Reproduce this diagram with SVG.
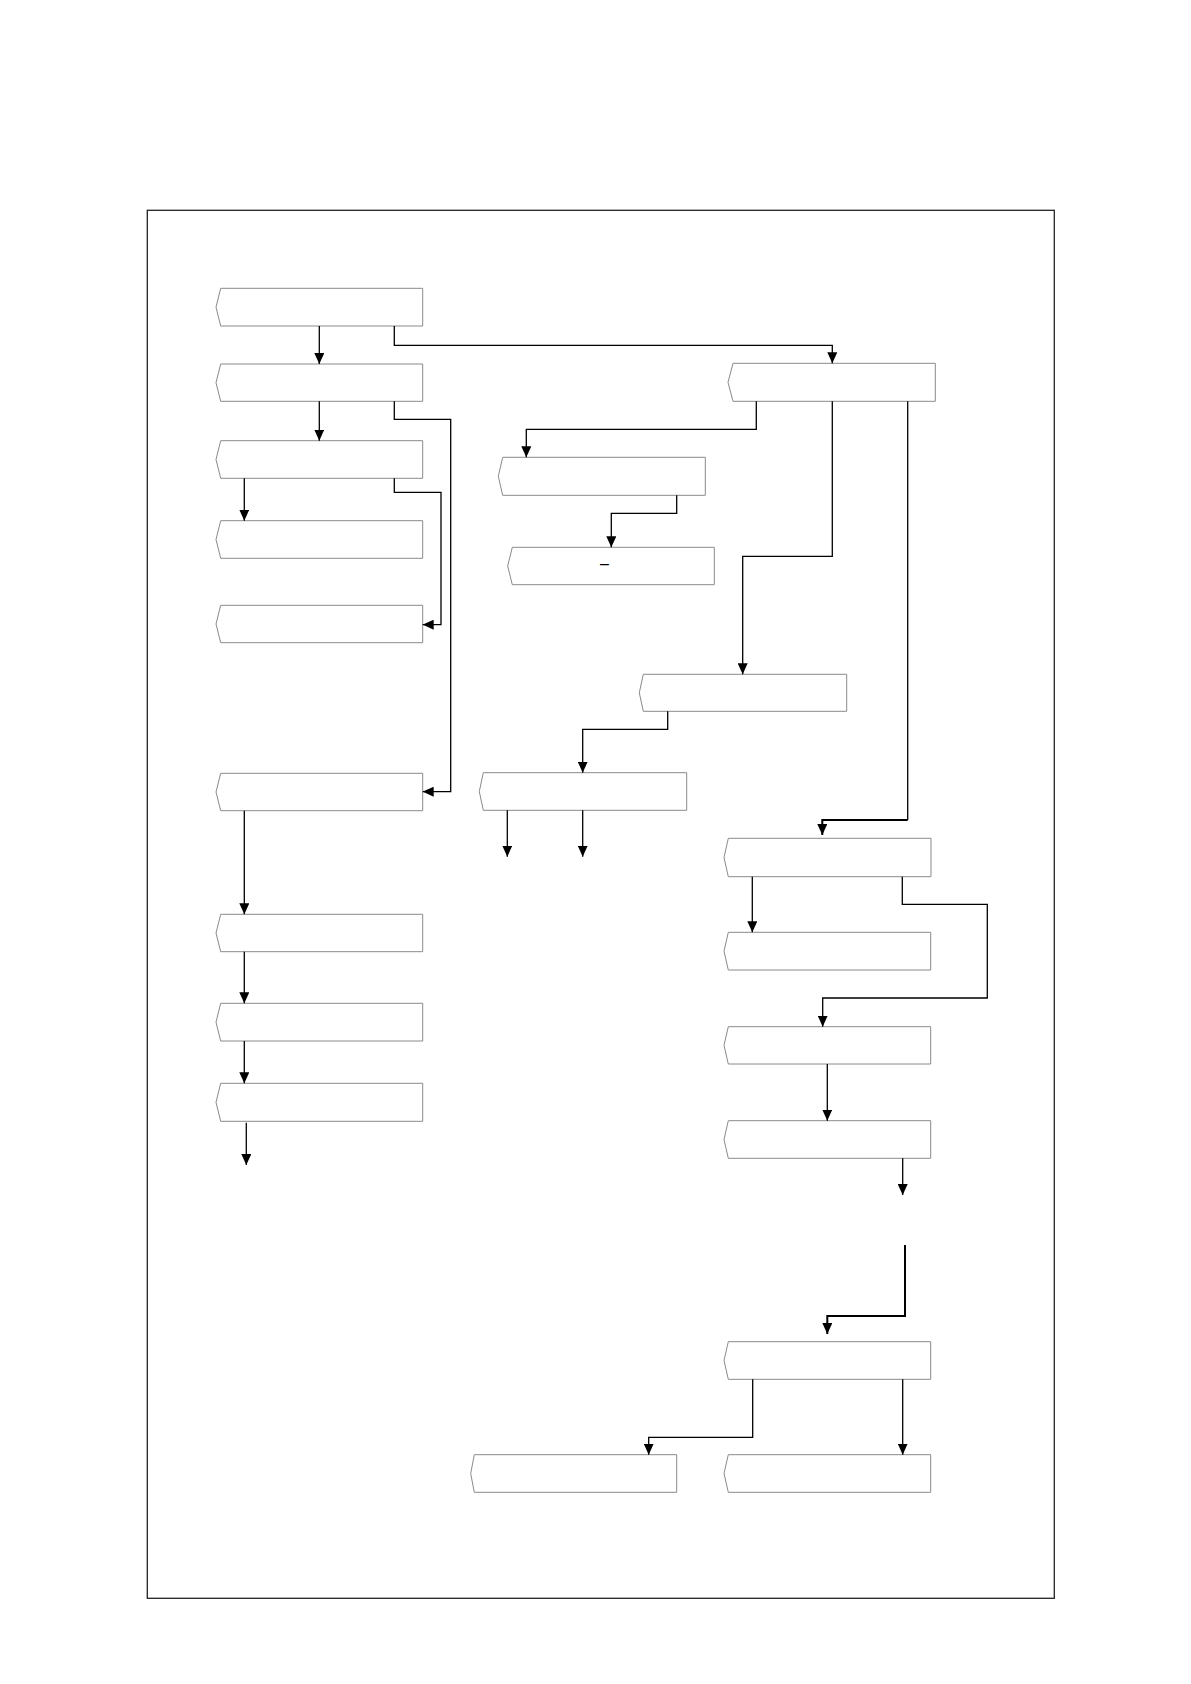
<svg xmlns="http://www.w3.org/2000/svg" width="1191" height="1684" viewBox="0 0 1191 1684">
<style>
.frame{fill:none;stroke:#222;stroke-width:1.3}
.box{fill:#fff;stroke:#8a8a8a;stroke-width:1}
.c{fill:none;stroke:#000;stroke-width:1.3;marker-end:url(#ah)}
.cn{fill:none;stroke:#000;stroke-width:1.3}
.thick{stroke-width:2}
.t{font-family:"Liberation Sans",Arial,sans-serif;font-size:16px;fill:#000;text-anchor:middle}
</style>
<defs>
<marker id="ah" markerUnits="userSpaceOnUse" markerWidth="11" markerHeight="10" refX="11" refY="5" orient="auto" viewBox="0 0 11 10">
<path d="M0,0 L11,5 L0,10 Z" fill="#000"/>
</marker>
</defs>
<rect width="1191" height="1684" fill="#fff"/>
<rect class="frame" x="147.3" y="210.3" width="907" height="1388"/>

<g id="L1"><path class="box" d="M220.7,288.3 H422.7 V326 H220.7 L216,307.2 Z"/></g>
<g id="L2"><path class="box" d="M220.7,364 H422.7 V401.3 H220.7 L216,382.7 Z"/></g>
<g id="L3"><path class="box" d="M220.7,440.7 H422.7 V478.3 H220.7 L216,459.5 Z"/></g>
<g id="L4"><path class="box" d="M220.7,520.7 H422.7 V558.3 H220.7 L216,539.5 Z"/></g>
<g id="L5"><path class="box" d="M220.7,605.3 H422.7 V642.7 H220.7 L216,624 Z"/></g>
<g id="L6"><path class="box" d="M220.7,773.3 H422.7 V810.7 H220.7 L216,792 Z"/></g>
<g id="L7"><path class="box" d="M220.7,914.3 H422.7 V951.7 H220.7 L216,933 Z"/></g>
<g id="L8"><path class="box" d="M220.7,1003.3 H422.7 V1041 H220.7 L216,1022.2 Z"/></g>
<g id="L9"><path class="box" d="M220.7,1083.3 H422.7 V1121.3 H220.7 L216,1102.3 Z"/></g>
<g id="R1"><path class="box" d="M733,363.3 H935.3 V401.3 H733 L728,382.3 Z"/></g>
<g id="M1"><path class="box" d="M502.7,457.3 H705.3 V495.3 H502.7 L498.3,476.3 Z"/></g>
<g id="M2"><path class="box" d="M512.3,547.3 H714.3 V584.7 H512.3 L507.7,566 Z"/><text class="t" x="604.5" y="569">–</text></g>
<g id="M3"><path class="box" d="M643.3,674.3 H846.7 V711.3 H643.3 L639.3,692.8 Z"/></g>
<g id="M4"><path class="box" d="M483.3,772.7 H686.7 V810.3 H483.3 L479.3,791.5 Z"/></g>
<g id="R2"><path class="box" d="M728.3,838.3 H931 V876.7 H728.3 L724,857.5 Z"/></g>
<g id="R3"><path class="box" d="M728.3,932.3 H930.7 V970 H728.3 L724,951.2 Z"/></g>
<g id="R4"><path class="box" d="M728.3,1026.7 H930.7 V1064 H728.3 L724,1045.3 Z"/></g>
<g id="R5"><path class="box" d="M728.3,1120.7 H930.7 V1158.3 H728.3 L724,1139.5 Z"/></g>
<g id="R6"><path class="box" d="M728.3,1341.7 H930.7 V1379.3 H728.3 L724,1360.5 Z"/></g>
<g id="B1"><path class="box" d="M474.3,1454.7 H676.7 V1492.3 H474.3 L470.7,1473.5 Z"/></g>
<g id="B2"><path class="box" d="M728.3,1454.7 H930.7 V1492.3 H728.3 L724,1473.5 Z"/></g>

<g id="connectors">
<path class="c" d="M319.3,326 V364"/>
<path class="c" d="M394.3,326 V345.3 H832.3 V363.3"/>
<path class="c" d="M319.3,401.3 V440.7"/>
<path class="c" d="M394.3,401.3 V419.3 H450.7 V791.7 H422.7"/>
<path class="c" d="M244.3,478.3 V520.7"/>
<path class="c" d="M394.3,478.3 V492.3 H441 V624.7 H422.7"/>
<path class="c" d="M244.3,810.7 V914.3"/>
<path class="c" d="M244.3,951.7 V1003.3"/>
<path class="c" d="M244.3,1041 V1083.3"/>
<path class="c" d="M246.3,1122.7 V1165"/>
<path class="c" d="M756.3,401.3 V429.3 H526.3 V457.3"/>
<path class="c" d="M832.3,401.3 V556.3 H742.7 V674.3"/>
<path class="cn" d="M907.7,401.3 V820"/>
<path class="c thick" d="M907.7,820 H822.3 V835"/>
<path class="c" d="M676.7,495.3 V513.3 H611.3 V547.3"/>
<path class="c" d="M667.7,711.3 V729.3 H582.7 V772.7"/>
<path class="c" d="M507.3,810.3 V856.7"/>
<path class="c" d="M582.7,810.3 V856.7"/>
<path class="c" d="M752.3,876.7 V932.3"/>
<path class="c" d="M902.3,876.7 V904.3 H987.3 V998 H822.7 V1026.7"/>
<path class="c" d="M827.3,1064 V1120.7"/>
<path class="c" d="M902.7,1158.3 V1195"/>
<path class="c thick" d="M905,1245 V1316 H827.3 V1334"/>
<path class="c" d="M752.7,1379.3 V1437.3 H648.7 V1454.7"/>
<path class="c" d="M902.7,1379.3 V1454.7"/>
</g>
</svg>
